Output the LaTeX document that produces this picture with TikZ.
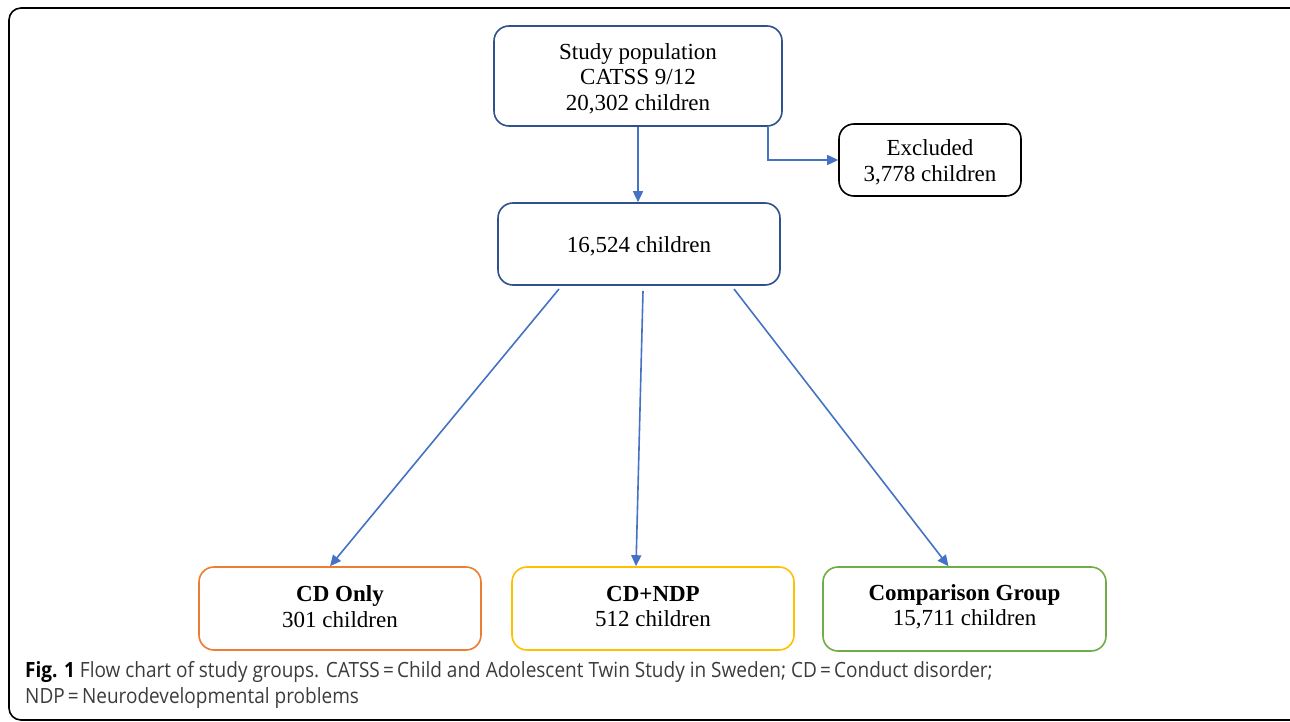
\documentclass[tikz,border=0pt]{standalone}
\usepackage{fontspec}
\setmainfont{Liberation Serif}
\newfontfamily\capfont{Open Sans}
\usetikzlibrary{arrows.meta}
\definecolor{boxblue}{RGB}{47,82,143}
\definecolor{arrblue}{RGB}{68,114,196}
\definecolor{cdorange}{RGB}{237,125,49}
\definecolor{cdgold}{RGB}{255,192,0}
\definecolor{cdgreen}{RGB}{112,173,71}
\definecolor{capgray}{RGB}{60,60,60}
\newcommand\topfix{\rule{0pt}{20.7pt}}
\newcommand\botfix[1]{\rule[-#1]{0pt}{0pt}}
\tikzset{
  box/.style={draw, rounded corners=15pt, line width=1.6pt, align=center, inner sep=0pt,
    font=\fontsize{23}{25.5}\selectfont, text=black},
  arr/.style={draw=arrblue, line width=1.6pt, -{Triangle[length=11pt,width=10pt]}},
  capt/.style={anchor=base west, inner sep=0pt, font=\capfont\fontsize{21}{24}\selectfont, text=capgray}
}
\begin{document}
\begin{tikzpicture}[x=1pt,y=-1pt]
\useasboundingbox (0,0) rectangle (1290,722);
\draw[line width=1.6pt, rounded corners=12pt] (9,8) rectangle (1310,720);
\node[box, draw=boxblue, minimum width=288pt, minimum height=100pt] (top) at (638,76)
  {\topfix Study population\\CATSS 9/12\\20,302 children};
\node[box, draw=black, minimum width=182pt, minimum height=72pt] (exc) at (930,160)
  {\topfix Excluded\\3,778 children};
\node[box, draw=boxblue, minimum width=282pt, minimum height=82pt] (mid) at (639,244)
  {\topfix 16,524 children};
\node[box, draw=cdorange, minimum width=282pt, minimum height=83pt] (cdo) at (340,608.5)
  {\textbf{CD Only}\\301 children\botfix{4pt}};
\node[box, draw=cdgold, minimum width=282pt, minimum height=83pt] (cdn) at (653,608.5)
  {\textbf{CD+NDP}\\512 children\botfix{4pt}};
\node[box, draw=cdgreen, minimum width=283pt, minimum height=84pt] (cmp) at (964.5,609)
  {\textbf{Comparison Group}\\15,711 children\botfix{7.5pt}};
\coordinate (s1) at (559,289);
\coordinate (s2) at (643,291);
\coordinate (s3) at (734,289);
\draw[arr] (top.south) -- (top.south |- mid.north);
\draw[arr] ([xshift=130pt]top.south) |- (exc.west);
\draw[arr] (s1) -- ([xshift=-10pt]cdo.north);
\draw[arr] (s2) -- ([xshift=-17pt]cdn.north);
\draw[arr] (s3) -- ([xshift=-16pt]cmp.north);
\node[capt] (cap1) at (25,677) {\scalebox{0.905}[1]{\textbf{\color{black}Fig. 1} Flow chart of study groups. CATSS\,=\,Child and Adolescent Twin Study in Sweden; CD\,=\,Conduct disorder;}};
\node[capt] (cap2) at (25,703) {\scalebox{0.905}[1]{NDP\,=\,Neurodevelopmental problems}};
\end{tikzpicture}
\end{document}
